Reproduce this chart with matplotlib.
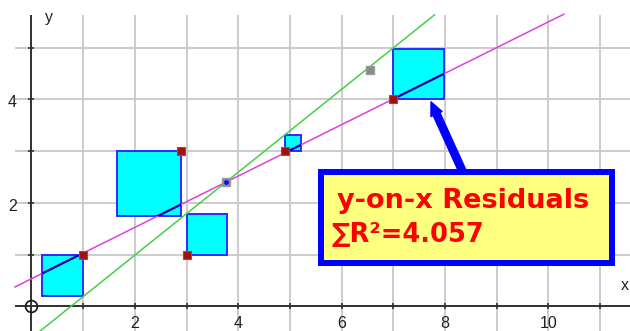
import matplotlib
matplotlib.use("Agg")
import matplotlib.pyplot as plt
from matplotlib.patches import Rectangle

# data points and residual squares (signed side: + goes right/up, - goes left/down)
pt_x = [1.0, 2.9, 3.0, 4.9, 7.0]
pt_y = [1.0, 3.0, 1.0, 3.0, 4.0]
sq_side = [-0.8, -1.25, 0.78, 0.31, 0.98]

# fitted y-on-x line and the steeper comparison line
fit_slope, fit_icpt = 0.4958, 0.5356
alt_slope = 0.80
mean_x, mean_y = 3.76, 2.4
handle_x, handle_y = 6.54, 4.57

x_ticks = [2, 4, 6, 8, 10]
y_ticks = [2, 4]
label_lines = ["y-on-x Residuals", "\u2211R\u00b2=4.057"]

XMIN, XMAX = -0.609, 11.58
YMIN, YMAX = -0.473, 5.917
GTOP, GLEFT = 5.63, -0.32

fig = plt.figure(figsize=(6.3, 3.31), dpi=100)
ax = fig.add_axes([0, 0, 1, 1])
ax.set_xlim(XMIN, XMAX)
ax.set_ylim(YMIN, YMAX)
ax.axis("off")

# grid
ax.vlines(range(1, 12), YMIN, GTOP, color="#c8c8c8", lw=1.3, zorder=1)
ax.hlines(range(1, 6), GLEFT, XMAX, color="#c8c8c8", lw=1.3, zorder=1)

# axes with ticks
ax.hlines(0, GLEFT, XMAX, color="#303030", lw=1.4, zorder=2)
ax.vlines(0, YMIN, GTOP, color="#303030", lw=1.4, zorder=2)
ax.plot(range(1, 12), [0] * 11, ls="none", marker="|", ms=5, mew=1.2, color="#303030", zorder=2)
ax.plot([0] * 5, range(1, 6), ls="none", marker="_", ms=5, mew=1.2, color="#303030", zorder=2)
ax.plot(0, 0, marker="o", ms=8.5, mfc="none", mec="#202020", mew=1.3, zorder=3)

tick_font = dict(family="Liberation Sans", size=11.5, color="#202020")
for t in x_ticks:
    ax.text(t, -0.19, str(t), ha="center", va="top", **tick_font)
for t in y_ticks:
    ax.text(-0.28, t - 0.06, str(t), ha="right", va="center", **tick_font)
ax.text(0.33, 5.57, "y", ha="center", va="center", **tick_font)
ax.text(11.56, 0.41, "x", ha="right", va="center", **tick_font)

# residual squares
lx = [GLEFT, 10.3]
ly = [fit_icpt + fit_slope * v for v in lx]
for x, y, s in zip(pt_x, pt_y, sq_side):
    sq = Rectangle((min(x, x + s), min(y, y + s)), abs(s), abs(s),
                   facecolor="#00ffff", edgecolor="#2a2aff", lw=1.4, zorder=4)
    ax.add_patch(sq)
    inner, = ax.plot(lx, ly, color="#0000b0", lw=1.6, zorder=5.5)
    inner.set_clip_path(sq)

# lines
ax.plot(lx, ly, color="#e040e0", lw=1.1, zorder=5)
gy = [YMIN, GTOP]
gx = [mean_x + (v - mean_y) / alt_slope for v in gy]
ax.plot(gx, gy, color="#44d044", lw=1.1, zorder=5)

# points
ax.plot(pt_x, pt_y, ls="none", marker="s", ms=5.5, mfc="#a01010", mec="#b04818", mew=0.8, zorder=6)
ax.plot([handle_x], [handle_y], ls="none", marker="s", ms=5.5, mfc="#8a8a8a", mec="#9a9a9a", zorder=6)
ax.plot([mean_x], [mean_y], ls="none", marker="s", ms=5.5, mfc="#8a8a8a", mec="#9a9a9a", zorder=6)
ax.plot([mean_x], [mean_y], ls="none", marker="o", ms=2.5, color="#1010ff", zorder=6.5)

# annotation box and arrow
ax.annotate("", xy=(7.73, 3.95), xytext=(8.39, 2.5),
            arrowprops=dict(arrowstyle="simple,head_width=0.55,head_length=0.6,tail_width=0.33",
                            color="#0000ff", mutation_scale=16, shrinkA=0, shrinkB=0),
            zorder=7)
ax.add_patch(Rectangle((5.61, 0.84), 5.63, 1.75, facecolor="#ffff80",
                       edgecolor="#0000ff", lw=4.3, zorder=8))
ax.text(5.91, 1.90, label_lines[0], ha="left", va="baseline", zorder=9,
        family="DejaVu Sans", weight="bold", size=19.5, color="#ff0000")
ax.text(5.81, 1.245, label_lines[1], ha="left", va="baseline", zorder=9,
        family="DejaVu Sans", weight="bold", size=18.5, color="#ff0000")

fig.savefig("out.png", dpi=100)
